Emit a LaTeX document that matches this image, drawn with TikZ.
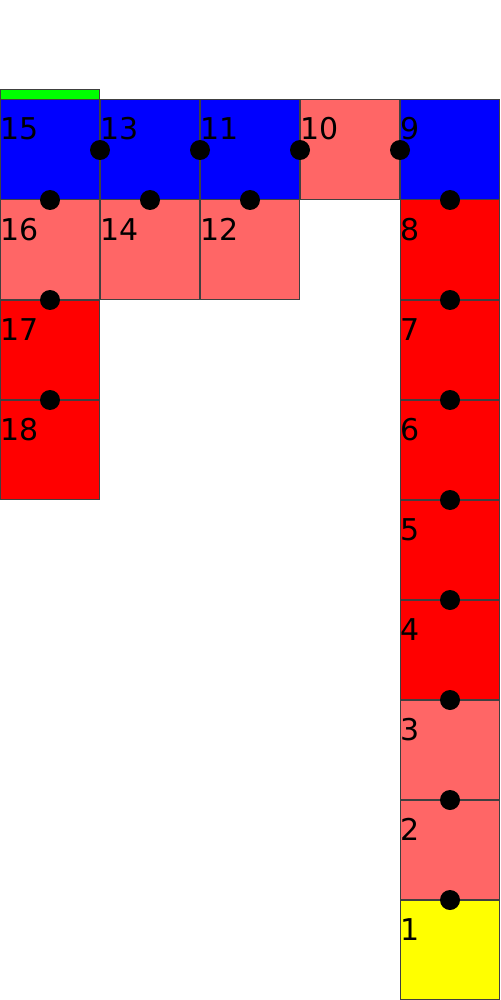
\documentclass[tikz,border=0pt]{standalone}
\usepackage{fontspec}
\setmainfont{DejaVu Sans}
\definecolor{lred}{HTML}{FF6666}
\definecolor{dred}{HTML}{FF0000}
\definecolor{cblue}{HTML}{0000FF}
\definecolor{cyel}{HTML}{FFFF00}
\definecolor{cgreen}{HTML}{00FF00}
\begin{document}
\begin{tikzpicture}[x=0.02cm,y=-0.02cm,
  cell/.style={draw=black!75, line width=0.02cm, minimum width=2cm, minimum height=2cm, inner sep=0pt, outer sep=0pt, anchor=north west},
  lbl/.style={anchor=base west, inner sep=0pt, font=\fontsize{17.07pt}{17.07pt}\selectfont},
  dot/.style={circle, fill=black, minimum size=0.4cm, inner sep=0pt}]
\useasboundingbox (0,0) rectangle (500,1000);
% right column
\node[cell, fill=cyel] (c1) at (400,900) {};
\node[cell, fill=lred] (c2) at (400,800) {};
\node[cell, fill=lred] (c3) at (400,700) {};
\node[cell, fill=dred] (c4) at (400,600) {};
\node[cell, fill=dred] (c5) at (400,500) {};
\node[cell, fill=dred] (c6) at (400,400) {};
\node[cell, fill=dred] (c7) at (400,300) {};
\node[cell, fill=dred] (c8) at (400,200) {};
\node[cell, fill=cblue] (c9) at (400,100) {};
% top row
\node[cell, fill=lred] (c10) at (300,100) {};
\node[cell, fill=cblue] (c11) at (200,100) {};
\node[cell, fill=lred] (c12) at (200,200) {};
\node[cell, fill=cblue] (c13) at (100,100) {};
\node[cell, fill=lred] (c14) at (100,200) {};
\node[cell, fill=cblue] (c15) at (0,100) {};
\node[cell, fill=lred] (c16) at (0,200) {};
\node[cell, fill=dred] (c17) at (0,300) {};
\node[cell, fill=dred] (c18) at (0,400) {};
% green bar
\node[draw=black!75, line width=0.02cm, fill=cgreen, minimum width=2cm, minimum height=0.2cm, inner sep=0pt, outer sep=0pt, anchor=north west] (bar) at (0,90) {};
% labels
\node[lbl] (l1) at (400,940) {1};
\node[lbl] (l2) at (400,840) {2};
\node[lbl] (l3) at (400,740) {3};
\node[lbl] (l4) at (400,640) {4};
\node[lbl] (l5) at (400,540) {5};
\node[lbl] (l6) at (400,440) {6};
\node[lbl] (l7) at (400,340) {7};
\node[lbl] (l8) at (400,240) {8};
\node[lbl] (l9) at (400,140) {9};
\node[lbl] (l10) at (300,140) {10};
\node[lbl] (l11) at (200,140) {11};
\node[lbl] (l12) at (200,240) {12};
\node[lbl] (l13) at (100,140) {13};
\node[lbl] (l14) at (100,240) {14};
\node[lbl] (l15) at (0,140) {15};
\node[lbl] (l16) at (0,240) {16};
\node[lbl] (l17) at (0,340) {17};
\node[lbl] (l18) at (0,440) {18};
% dots
\node[dot] (d1) at (450,900) {};
\node[dot] (d2) at (450,800) {};
\node[dot] (d3) at (450,700) {};
\node[dot] (d4) at (450,600) {};
\node[dot] (d5) at (450,500) {};
\node[dot] (d6) at (450,400) {};
\node[dot] (d7) at (450,300) {};
\node[dot] (d8) at (450,200) {};
\node[dot] (d9) at (400,150) {};
\node[dot] (d10) at (300,150) {};
\node[dot] (d11) at (250,200) {};
\node[dot] (d12) at (200,150) {};
\node[dot] (d13) at (150,200) {};
\node[dot] (d14) at (100,150) {};
\node[dot] (d15) at (50,200) {};
\node[dot] (d16) at (50,300) {};
\node[dot] (d17) at (50,400) {};
\end{tikzpicture}
\end{document}
